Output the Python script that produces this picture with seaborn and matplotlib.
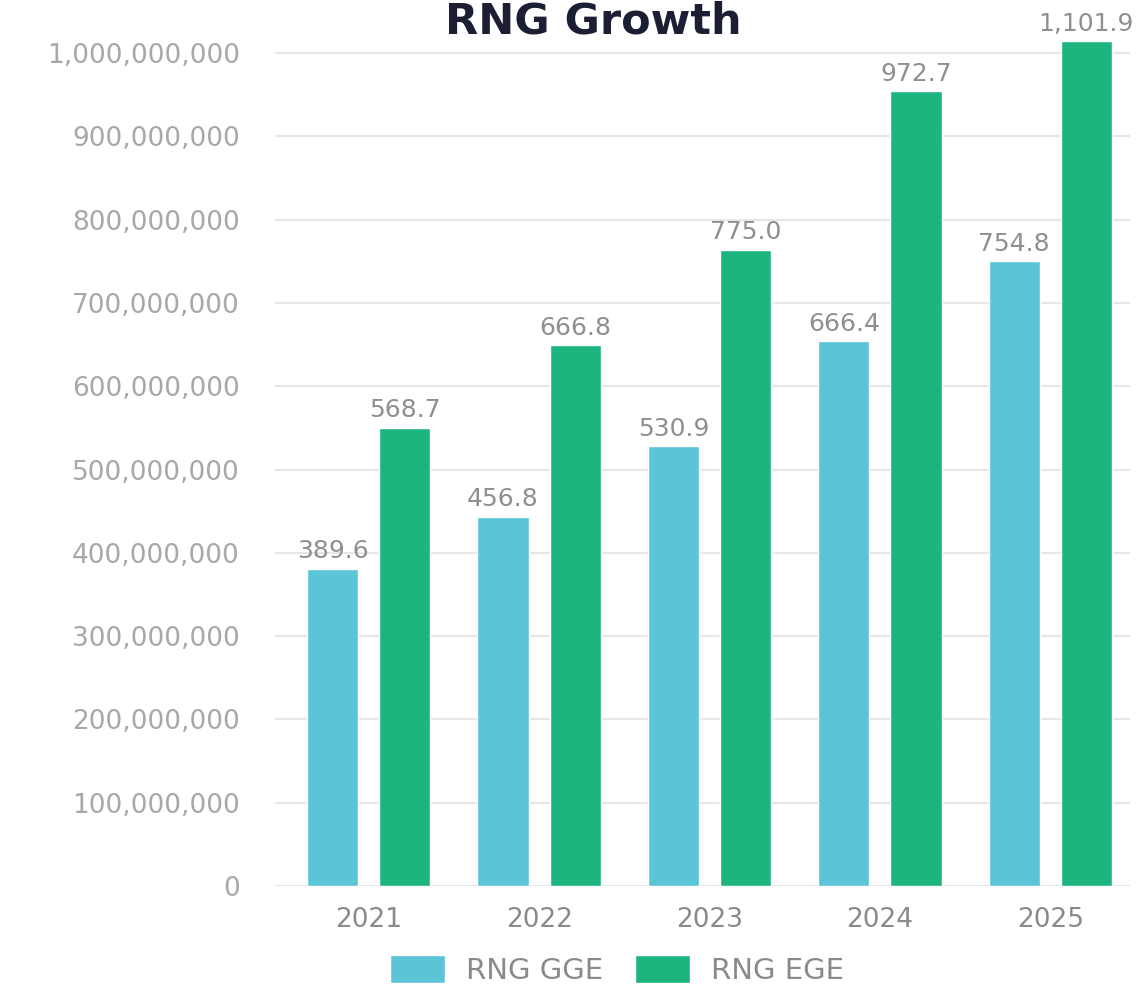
import matplotlib
matplotlib.use("Agg")
import matplotlib.pyplot as plt
import seaborn as sns
import pandas as pd
from matplotlib.ticker import FuncFormatter

years = ["2021", "2022", "2023", "2024", "2025"]
series = ["RNG GGE", "RNG EGE"]
gge_values = [381e6, 443e6, 528e6, 654e6, 750e6]
ege_values = [550e6, 649e6, 764e6, 954e6, 1014e6]
gge_labels = ["389.6", "456.8", "530.9", "666.4", "754.8"]
ege_labels = ["568.7", "666.8", "775.0", "972.7", "1,101.9"]
y_ticks = [0, 100e6, 200e6, 300e6, 400e6, 500e6, 600e6, 700e6, 800e6, 900e6, 1000e6]

df = pd.DataFrame({
    "Year": years * 2,
    "Series": [series[0]] * len(years) + [series[1]] * len(years),
    "Value": gge_values + ege_values,
})

sns.set_theme(style="white")
plt.rcParams["font.family"] = ["DejaVu Sans"]

fig = plt.figure(figsize=(11.44, 9.86), dpi=100)
ax = fig.add_axes([0.240, 0.1014, 0.748, 0.8955])

palette = {"RNG GGE": "#5BC4D6", "RNG EGE": "#1DB57E"}
sns.barplot(data=df, x="Year", y="Value", hue="Series", palette=palette,
            width=0.847, gap=0.29, ax=ax, saturation=1, legend=True)

ax.set_ylim(0, 1.06e9)
ax.set_xlim(-0.553, 4.47)
ax.set_yticks(y_ticks)
ax.yaxis.set_major_formatter(FuncFormatter(lambda v, p: f"{int(v):,}"))
ax.grid(axis="y", color="#e6e6e6", linewidth=1.5)
ax.set_axisbelow(True)
for s in ax.spines.values():
    s.set_visible(False)
ax.set_xlabel("")
ax.set_ylabel("")
ax.tick_params(axis="y", length=0, pad=25, labelsize=19, labelcolor="#a8a8a8")
ax.tick_params(axis="x", length=0, pad=15, labelsize=19, labelcolor="#8a8a8a")

ax.bar_label(ax.containers[0], labels=gge_labels, padding=4, fontsize=18, color="#8f8f8f")
ax.bar_label(ax.containers[1], labels=ege_labels, padding=4, fontsize=18, color="#8f8f8f")

handles, labels = ax.get_legend_handles_labels()
ax.get_legend().remove()
fig.legend(handles, labels, loc="center", bbox_to_anchor=(0.539, 0.016),
           bbox_transform=fig.transFigure, ncol=2, frameon=False, fontsize=21,
           handlelength=1.9, handleheight=1.05, handletextpad=0.7, columnspacing=1.1,
           labelcolor="#8a8a8a", borderpad=0.1)

fig.text(0.519, 1 - 34 / 986, "RNG Growth", ha="center", va="baseline", fontsize=31,
         fontweight="bold", color="#1c1f33")

fig.savefig("out.png", dpi=100)
